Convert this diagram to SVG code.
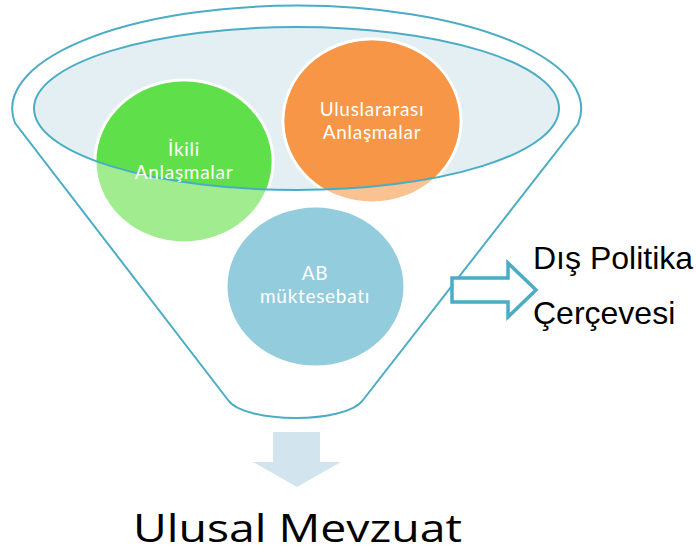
<svg xmlns="http://www.w3.org/2000/svg" width="696" height="553" viewBox="0 0 696 553">
  <style>
    .rim { fill: none; stroke: #4bacc6; stroke-width: 2; }
    .disc { stroke: #ffffff; stroke-width: 3; }
    .lbl { font-family: Lato, "Open Sans", sans-serif; font-size: 19px; letter-spacing: 0.7px; fill: #ffffff; text-anchor: middle; }
    .side { font-family: "Liberation Sans", Arial, sans-serif; font-size: 32px; fill: #000000; }
  </style>
  <defs>
    <clipPath id="mouth">
      <ellipse cx="296.5" cy="108.5" rx="262.5" ry="81.5"/>
    </clipPath>
  </defs>
  <rect width="696" height="553" fill="#ffffff"/>

  <!-- funnel body -->
  <g id="funnel">
    <path d="M15,123 A284.5,103 0 1 1 578,124 L363,400 C346,424 245,424 228,400 Z" fill="#ffffff" stroke="#4bacc6" stroke-width="2"/>
    <ellipse cx="296.5" cy="108.5" rx="262.5" ry="81.5" fill="#e4eff4"/>
  </g>

  <!-- circles: pale outside the mouth, full colour inside it -->
  <g id="ikili">
    <ellipse class="disc" cx="184" cy="161.5" rx="89" ry="81.5" fill="#a1ec8f"/>
    <ellipse cx="184" cy="161.5" rx="87.5" ry="80" fill="#5fe04a" clip-path="url(#mouth)"/>
  </g>
  <g id="uluslararasi">
    <ellipse class="disc" cx="372" cy="121" rx="89" ry="82" fill="#fac191"/>
    <ellipse cx="372" cy="121" rx="87.5" ry="80.5" fill="#f79646" clip-path="url(#mouth)"/>
  </g>
  <g id="ab">
    <ellipse class="disc" cx="315.5" cy="286.5" rx="89.5" ry="80.5" fill="#93cddd"/>
  </g>

  <ellipse class="rim" cx="296.5" cy="108.5" rx="262.5" ry="81.5"/>

  <g id="labels">
    <text class="lbl" x="184" y="156">İkili</text>
    <text class="lbl" x="184" y="179">Anlaşmalar</text>
    <text class="lbl" x="372" y="116">Uluslararası</text>
    <text class="lbl" x="372" y="139">Anlaşmalar</text>
    <text class="lbl" x="315" y="280">AB</text>
    <text class="lbl" x="315" y="303">müktesebatı</text>
  </g>

  <!-- connectors -->
  <g id="connectors">
    <path id="out-arrow" d="M452,278 H508 V263 L536,290 L508,317 V302 H452 Z" fill="#ffffff" stroke="#4bacc6" stroke-width="3.5" stroke-linejoin="miter"/>
    <path id="down-arrow" d="M273,432 H320 V462 H341 L297,487 L253,462 H273 Z" fill="#d2e5ee"/>
  </g>

  <g id="dis-politika">
    <text class="side" x="533" y="269">Dış Politika</text>
    <text class="side" x="533" y="324">Çerçevesi</text>
  </g>

  <g id="ulusal-mevzuat">
    <text x="133" y="542" font-family="'Open Sans', 'Noto Sans', sans-serif" font-size="39" fill="#000000" textLength="329" lengthAdjust="spacingAndGlyphs">Ulusal Mevzuat</text>
  </g>
</svg>
